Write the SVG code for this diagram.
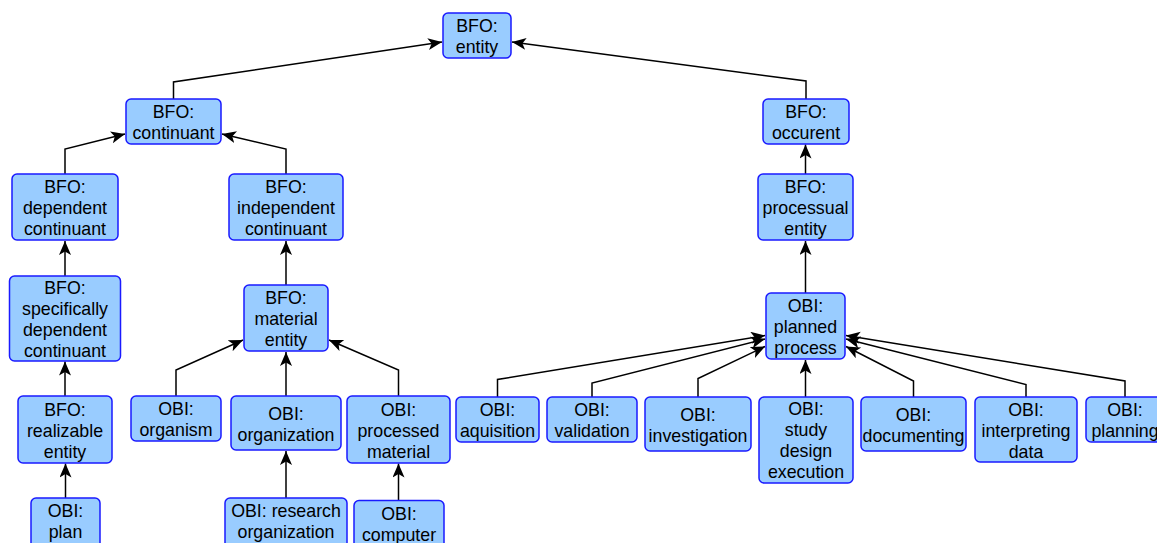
<svg xmlns="http://www.w3.org/2000/svg" width="1157" height="543" viewBox="0 0 1157 543">
  <style>
    .node rect { fill: #99CCFF; stroke: #1A1AFF; stroke-width: 1.5; }
    .node text { font-family: "Liberation Sans", Arial, sans-serif; font-size: 17.8px; fill: #000; text-anchor: middle; }
    .edge { fill: none; stroke: #000; stroke-width: 1.5; marker-end: url(#arrow); }
  </style>
  <defs>
    <marker id="arrow" markerUnits="userSpaceOnUse" markerWidth="16" markerHeight="14" refX="14" refY="6" orient="auto">
      <path d="M0,0 L14,6 L0,12 L3.5,6 Z" fill="#000"/>
    </marker>
  </defs>

  <rect width="1157" height="543" fill="#fff"/>

  <!-- connectors: child -> parent -->
  <g id="connectors">
    <polyline class="edge" points="173.5,99 173.5,82 442,42"/>
    <polyline class="edge" points="806,99 806,81 512,42"/>
    <polyline class="edge" points="65,174 65,149 125,134"/>
    <polyline class="edge" points="286,174 286,149 222,134"/>
    <polyline class="edge" points="65,276 65,241"/>
    <polyline class="edge" points="65,396 65,361.5"/>
    <polyline class="edge" points="65.5,498 65.5,463.5"/>
    <polyline class="edge" points="286,285 286,241"/>
    <polyline class="edge" points="176,396 176,370 243,340"/>
    <polyline class="edge" points="286,396 286,352"/>
    <polyline class="edge" points="398.5,396 398.5,370 329,340"/>
    <polyline class="edge" points="286,498 286,451"/>
    <polyline class="edge" points="398.5,500.5 398.5,463.5"/>
    <polyline class="edge" points="805.5,174 805.5,144.5"/>
    <polyline class="edge" points="805.5,293 805.5,241"/>
    <polyline class="edge" points="497.5,397 497.5,379.5 765,335.5"/>
    <polyline class="edge" points="592,397 592,383 765,339"/>
    <polyline class="edge" points="698,397 698,378.5 765,346.5"/>
    <polyline class="edge" points="805.5,397 805.5,360"/>
    <polyline class="edge" points="913.5,397 913.5,381 846,346.5"/>
    <polyline class="edge" points="1026,397 1026,384.5 846,339"/>
    <polyline class="edge" points="1125,397 1125,381 846,335.5"/>
  </g>

  <g id="bfo-entity" class="node">
    <rect x="443" y="13" width="68" height="45" rx="5"/>
    <text><tspan x="477" y="32">BFO:</tspan><tspan x="477" y="53">entity</tspan></text>
  </g>
  <g id="bfo-continuant" class="node">
    <rect x="126" y="99" width="95" height="45" rx="5"/>
    <text><tspan x="173.5" y="118">BFO:</tspan><tspan x="173.5" y="139">continuant</tspan></text>
  </g>
  <g id="bfo-occurent" class="node">
    <rect x="763" y="99" width="86" height="45" rx="5"/>
    <text><tspan x="806" y="118">BFO:</tspan><tspan x="806" y="139">occurent</tspan></text>
  </g>
  <g id="bfo-dependent-continuant" class="node">
    <rect x="12" y="174" width="106" height="66" rx="5"/>
    <text><tspan x="65" y="193">BFO:</tspan><tspan x="65" y="214">dependent</tspan><tspan x="65" y="235">continuant</tspan></text>
  </g>
  <g id="bfo-independent-continuant" class="node">
    <rect x="229" y="174" width="114" height="66" rx="5"/>
    <text><tspan x="286" y="193">BFO:</tspan><tspan x="286" y="214">independent</tspan><tspan x="286" y="235">continuant</tspan></text>
  </g>
  <g id="bfo-processual-entity" class="node">
    <rect x="758" y="174" width="95" height="66" rx="5"/>
    <text><tspan x="805.5" y="193">BFO:</tspan><tspan x="805.5" y="214">processual</tspan><tspan x="805.5" y="235">entity</tspan></text>
  </g>
  <g id="bfo-specifically-dependent-continuant" class="node">
    <rect x="9.5" y="276" width="111" height="85" rx="5"/>
    <text><tspan x="65" y="294">BFO:</tspan><tspan x="65" y="315">specifically</tspan><tspan x="65" y="336">dependent</tspan><tspan x="65" y="357">continuant</tspan></text>
  </g>
  <g id="bfo-material-entity" class="node">
    <rect x="244" y="285" width="84" height="66" rx="5"/>
    <text><tspan x="286" y="304">BFO:</tspan><tspan x="286" y="325">material</tspan><tspan x="286" y="346">entity</tspan></text>
  </g>
  <g id="obi-planned-process" class="node">
    <rect x="766" y="293" width="79" height="66" rx="5"/>
    <text><tspan x="805.5" y="312">OBI:</tspan><tspan x="805.5" y="333">planned</tspan><tspan x="805.5" y="354">process</tspan></text>
  </g>
  <g id="bfo-realizable-entity" class="node">
    <rect x="18" y="396" width="94" height="67" rx="5"/>
    <text><tspan x="65" y="415.5">BFO:</tspan><tspan x="65" y="436.5">realizable</tspan><tspan x="65" y="457.5">entity</tspan></text>
  </g>
  <g id="obi-organism" class="node">
    <rect x="131" y="396" width="90" height="45" rx="5"/>
    <text><tspan x="176" y="415">OBI:</tspan><tspan x="176" y="436">organism</tspan></text>
  </g>
  <g id="obi-organization" class="node">
    <rect x="231" y="396" width="110" height="54" rx="5"/>
    <text><tspan x="286" y="419.5">OBI:</tspan><tspan x="286" y="440.5">organization</tspan></text>
  </g>
  <g id="obi-processed-material" class="node">
    <rect x="347" y="396" width="103" height="67" rx="5"/>
    <text><tspan x="398.5" y="415.5">OBI:</tspan><tspan x="398.5" y="436.5">processed</tspan><tspan x="398.5" y="457.5">material</tspan></text>
  </g>
  <g id="obi-aquisition" class="node">
    <rect x="456" y="397" width="83" height="45" rx="5"/>
    <text><tspan x="497.5" y="416">OBI:</tspan><tspan x="497.5" y="437">aquisition</tspan></text>
  </g>
  <g id="obi-validation" class="node">
    <rect x="547" y="397" width="90" height="45" rx="5"/>
    <text><tspan x="592" y="416">OBI:</tspan><tspan x="592" y="437">validation</tspan></text>
  </g>
  <g id="obi-investigation" class="node">
    <rect x="645" y="397" width="106" height="54" rx="5"/>
    <text><tspan x="698" y="420.5">OBI:</tspan><tspan x="698" y="441.5">investigation</tspan></text>
  </g>
  <g id="obi-study-design-execution" class="node">
    <rect x="759" y="397" width="94" height="86" rx="5"/>
    <text><tspan x="806" y="415">OBI:</tspan><tspan x="806" y="436">study</tspan><tspan x="806" y="457">design</tspan><tspan x="806" y="478">execution</tspan></text>
  </g>
  <g id="obi-documenting" class="node">
    <rect x="861" y="397" width="105" height="54" rx="5"/>
    <text><tspan x="913.5" y="420.5">OBI:</tspan><tspan x="913.5" y="441.5">documenting</tspan></text>
  </g>
  <g id="obi-interpreting-data" class="node">
    <rect x="975" y="397" width="102" height="65" rx="5"/>
    <text><tspan x="1026" y="415.5">OBI:</tspan><tspan x="1026" y="436.5">interpreting</tspan><tspan x="1026" y="457.5">data</tspan></text>
  </g>
  <g id="obi-planning" class="node">
    <rect x="1086" y="397" width="78" height="45" rx="5"/>
    <text><tspan x="1125" y="416">OBI:</tspan><tspan x="1125" y="437">planning</tspan></text>
  </g>
  <g id="obi-plan" class="node">
    <rect x="31" y="498" width="69" height="56" rx="5"/>
    <text><tspan x="65.5" y="516.5">OBI:</tspan><tspan x="65.5" y="537.5">plan</tspan></text>
  </g>
  <g id="obi-research-organization" class="node">
    <rect x="225" y="498" width="122" height="56" rx="5"/>
    <text><tspan x="286" y="516.5">OBI: research</tspan><tspan x="286" y="537.5">organization</tspan></text>
  </g>
  <g id="obi-computer" class="node">
    <rect x="354" y="500.5" width="90" height="56" rx="5"/>
    <text><tspan x="399" y="520">OBI:</tspan><tspan x="399" y="541">computer</tspan></text>
  </g>
</svg>
